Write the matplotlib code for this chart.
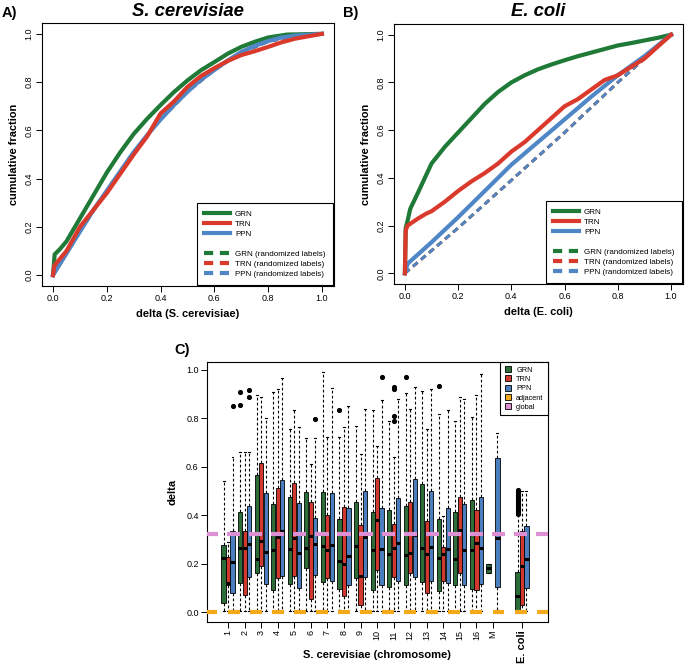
# delta distributions: cumulative curves (A, B) and per-chromosome boxplots (C)

import numpy as np
import matplotlib
matplotlib.use('Agg')
import matplotlib.pyplot as plt
from matplotlib.lines import Line2D

plt.rcParams['font.family'] = ['Liberation Sans', 'DejaVu Sans']

# ---- data ----
# panel A, S. cerevisiae: (delta, cumulative fraction)
sc_grn_x = [0, 0.006, 0.025, 0.05, 0.1, 0.15, 0.2, 0.25, 0.3, 0.35, 0.4, 0.45, 0.5, 0.55,
            0.6, 0.65, 0.7, 0.75, 0.8, 0.87, 1.0]
sc_grn_y = [0, 0.086, 0.107, 0.14, 0.235, 0.33, 0.425, 0.509, 0.585, 0.648, 0.705, 0.759,
            0.807, 0.849, 0.883, 0.918, 0.946, 0.967, 0.985, 0.997, 1.0]
sc_trn_x = [0, 0.005, 0.05, 0.1, 0.15, 0.2, 0.25, 0.3, 0.35, 0.4, 0.45, 0.5, 0.55, 0.6,
            0.65, 0.7, 0.75, 0.8, 0.85, 0.9, 0.95, 1.0]
sc_trn_y = [0, 0.04, 0.1, 0.2, 0.27, 0.34, 0.42, 0.5, 0.575, 0.67, 0.72, 0.78, 0.825, 0.858,
            0.888, 0.912, 0.928, 0.946, 0.965, 0.98, 0.99, 1.0]
sc_ppn_x = [0, 0.05, 0.1, 0.15, 0.2, 0.25, 0.3, 0.35, 0.4, 0.45, 0.5, 0.55, 0.6, 0.65,
            0.7, 0.75, 0.8, 0.85, 0.9, 1.0]
sc_ppn_y = [0, 0.09, 0.18, 0.27, 0.35, 0.43, 0.51, 0.58, 0.645, 0.705, 0.76, 0.81, 0.85,
            0.89, 0.925, 0.95, 0.97, 0.985, 0.993, 1.0]
# randomized labels: the three dashed curves lie on top of each other
sc_rand_x = [0, 0.1, 0.2, 0.3, 0.4, 0.5, 0.6, 0.7, 0.8, 0.9, 1.0]
sc_rand_y = [0, 0.18, 0.35, 0.51, 0.645, 0.76, 0.85, 0.922, 0.968, 0.992, 1.0]

# panel B, E. coli
ec_grn_x = [0, 0.003, 0.01, 0.02, 0.05, 0.1, 0.15, 0.2, 0.25, 0.3, 0.35, 0.4, 0.45, 0.5,
            0.55, 0.6, 0.65, 0.7, 0.75, 0.8, 0.85, 0.9, 0.95, 1.0]
ec_grn_y = [0, 0.19, 0.22, 0.27, 0.34, 0.46, 0.53, 0.59, 0.65, 0.71, 0.76, 0.80, 0.83,
            0.855, 0.875, 0.893, 0.91, 0.925, 0.94, 0.955, 0.965, 0.976, 0.987, 1.0]
ec_trn_x = [0, 0.003, 0.01, 0.05, 0.08, 0.1, 0.15, 0.2, 0.25, 0.3, 0.35, 0.4, 0.45, 0.5,
            0.55, 0.6, 0.65, 0.7, 0.75, 0.8, 0.85, 0.9, 0.95, 1.0]
ec_trn_y = [0, 0.18, 0.2, 0.23, 0.25, 0.26, 0.30, 0.345, 0.385, 0.42, 0.46, 0.51, 0.55,
            0.6, 0.65, 0.70, 0.73, 0.77, 0.81, 0.83, 0.865, 0.9, 0.95, 1.0]
ec_ppn_x = [0, 0.01, 0.05, 0.1, 0.2, 0.3, 0.4, 0.5, 0.6, 0.7, 0.8, 0.9, 1.0]
ec_ppn_y = [0, 0.04, 0.08, 0.13, 0.235, 0.345, 0.455, 0.55, 0.645, 0.74, 0.83, 0.91, 1.0]
ec_rand_x = [0, 0.2, 0.4, 0.6, 0.8, 1.0]
ec_rand_y = [0, 0.19, 0.39, 0.59, 0.80, 1.0]

# panel C, boxplot summaries per chromosome (1..16, M) and E. coli
chrom_labels = [str(i) for i in range(1, 17)] + ['M']

grn_q1 = [0.037, 0.12, 0.16, 0.09, 0.115, 0.18, 0.125, 0.095, 0.14, 0.09, 0.105, 0.11,
          0.125, 0.085, 0.11, 0.095, 0.16, 0.005]
grn_med = [0.225, 0.265, 0.22, 0.255, 0.262, 0.265, 0.275, 0.21, 0.275, 0.255, 0.24, 0.235,
           0.265, 0.225, 0.22, 0.255, 0.18, 0.065]
grn_q3 = [0.278, 0.415, 0.565, 0.445, 0.475, 0.495, 0.495, 0.385, 0.455, 0.415, 0.42, 0.44,
          0.53, 0.385, 0.415, 0.465, 0.20, 0.165]
grn_hi = [0.54, 0.66, 0.895, 0.91, 0.755, 0.72, 0.99, 0.725, 0.77, 0.835, 0.79, 0.905,
          0.915, 0.82, 0.79, 0.805, 0.20, 0.40]
grn_lo = [0.005] * 16 + [0.16, 0.005]
grn_out = {1: [0.857, 0.909], 7: [0.833], 11: [0.97], 13: [0.935],
           17: [0.405, 0.41, 0.415, 0.42, 0.425, 0.43, 0.435, 0.44, 0.445, 0.45, 0.455,
                0.46, 0.465, 0.47, 0.475, 0.48, 0.485, 0.49, 0.495, 0.5, 0.505]}

trn_q1 = [0.113, 0.07, 0.19, 0.14, 0.15, 0.055, 0.14, 0.068, 0.03, 0.175, 0.145, 0.16,
          0.08, 0.13, 0.16, 0.09, None, 0.03]
trn_med = [0.12, 0.265, 0.295, 0.31, 0.305, 0.315, 0.255, 0.20, 0.15, 0.38, 0.265, 0.245,
           0.24, 0.24, 0.34, 0.285, None, 0.19]
trn_q3 = [0.227, 0.335, 0.617, 0.512, 0.533, 0.455, 0.40, 0.435, 0.36, 0.555, 0.365, 0.455,
          0.375, 0.27, 0.475, 0.42, None, 0.335]
trn_hi = [0.29, 0.66, 0.89, 0.92, 0.835, 0.61, 0.725, 0.765, 0.655, 0.685, 0.64, 0.84,
          0.755, 0.395, 0.89, 0.895, None, 0.50]
trn_lo = [0.005] * 18
trn_out = {10: [0.93, 0.92, 0.81, 0.79]}

ppn_q1 = [0.08, 0.145, 0.115, 0.15, 0.10, 0.155, 0.13, 0.11, 0.145, 0.11, 0.13, 0.145,
          0.13, 0.12, 0.11, 0.115, 0.105, 0.10]
ppn_med = [0.205, 0.28, 0.25, 0.335, 0.245, 0.28, 0.277, 0.23, 0.31, 0.26, 0.285, 0.32,
           0.27, 0.26, 0.255, 0.265, 0.305, 0.22]
ppn_q3 = [0.335, 0.44, 0.49, 0.545, 0.45, 0.39, 0.492, 0.43, 0.50, 0.43, 0.47, 0.55,
          0.50, 0.428, 0.445, 0.475, 0.635, 0.355]
ppn_hi = [0.64, 0.66, 0.80, 0.965, 0.765, 0.72, 0.925, 0.85, 0.84, 0.875, 0.88, 0.93,
          0.92, 0.835, 0.88, 0.985, 0.74, 0.50]
ppn_lo = [0.005] * 16 + [0.01, 0.005]
ppn_out = {0: [0.85], 1: [0.917, 0.888], 5: [0.797], 9: [0.97]}

adjacent_val = 0.0
global_val = 0.323

# ---- styles ----
GREEN = '#1E7A36'
RED = '#DA3A2C'
BLUE = '#4F86C6'
ORANGE = '#F2AA1C'
PINK = '#DD90D4'
BOX_GREEN = '#2C6D38'
BOX_RED = '#D2392E'
BOX_BLUE = '#4B7EBF'

fig = plt.figure(figsize=(6.85, 6.65), dpi=100)


def style_axes(ax):
    for sp in ax.spines.values():
        sp.set_linewidth(0.8)
        sp.set_color('black')
    ax.tick_params(direction='out', length=4, width=0.7, labelsize=6.5, pad=2)


def cdf_panel(ax, grn, trn, ppn, rand, xlabel):
    dash = (0, (2.2, 1.6))
    ax.plot(rand[0], rand[1], color=GREEN, lw=2, ls=dash)
    ax.plot(rand[0], rand[1], color=RED, lw=2, ls=dash)
    ax.plot(rand[0], rand[1], color=BLUE, lw=2, ls=dash)
    ax.plot(grn[0], grn[1], color=GREEN, lw=3)
    ax.plot(ppn[0], ppn[1], color=BLUE, lw=3)
    ax.plot(trn[0], trn[1], color=RED, lw=3)
    ax.set_xlim(-0.041, 1.045)
    ax.set_ylim(-0.045, 1.045)
    ticks = [0, 0.2, 0.4, 0.6, 0.8, 1.0]
    ax.set_xticks(ticks)
    ax.set_yticks(ticks)
    ax.set_xticklabels(['%.1f' % t for t in ticks])
    ax.set_yticklabels(['%.1f' % t for t in ticks], rotation=90, va='center')
    style_axes(ax)
    ax.set_xlabel(xlabel, fontsize=7.9, fontweight='bold', labelpad=4)
    ax.set_ylabel('cumulative fraction', fontsize=7.9, fontweight='bold', labelpad=4)

    handles = [Line2D([], [], color=GREEN, lw=3), Line2D([], [], color=RED, lw=3),
               Line2D([], [], color=BLUE, lw=3), Line2D([], [], color='none'),
               Line2D([], [], color=GREEN, lw=3, ls=dash), Line2D([], [], color=RED, lw=3, ls=dash),
               Line2D([], [], color=BLUE, lw=3, ls=dash)]
    labels = ['GRN', 'TRN', 'PPN', '', 'GRN (randomized labels)',
              'TRN (randomized labels)', 'PPN (randomized labels)']
    leg = ax.legend(handles, labels, loc='lower right', bbox_to_anchor=(1.0, 0.0),
                    borderaxespad=0.15, fontsize=5.8, handlelength=3.2, handletextpad=0.6,
                    labelspacing=0.28, borderpad=0.9, fancybox=False, framealpha=1)
    leg.get_frame().set_edgecolor('black')
    leg.get_frame().set_linewidth(0.8)


axA = fig.add_axes([42 / 685, 1 - 286 / 665, 292 / 685, 263 / 665])
cdf_panel(axA, (sc_grn_x, sc_grn_y), (sc_trn_x, sc_trn_y), (sc_ppn_x, sc_ppn_y),
          (sc_rand_x, sc_rand_y), 'delta (S. cerevisiae)')
axB = fig.add_axes([394 / 685, 1 - 284 / 665, 289 / 685, 260 / 665])
cdf_panel(axB, (ec_grn_x, ec_grn_y), (ec_trn_x, ec_trn_y), (ec_ppn_x, ec_ppn_y),
          (ec_rand_x, ec_rand_y), 'delta (E. coli)')

fig.text(2 / 685, 1 - 13 / 665, 'A)', fontsize=10.5, fontweight='bold', va='center')
fig.text(188 / 685, 1 - 12 / 665, 'S. cerevisiae', fontsize=13.3, fontweight='bold',
         style='italic', ha='center', va='center')
fig.text(343 / 685, 1 - 13 / 665, 'B)', fontsize=10.5, fontweight='bold', va='center')
fig.text(538 / 685, 1 - 12 / 665, 'E. coli', fontsize=13.3, fontweight='bold',
         style='italic', ha='center', va='center')
fig.text(174 / 685, 1 - 350 / 665, 'C)', fontsize=10.5, fontweight='bold', va='center')

# ---- panel C ----
axC = fig.add_axes([207 / 685, 1 - 622 / 665, 341 / 685, 260 / 665])
group_pos = list(range(1, 18)) + [18.75]


def draw_boxes(ax, q1, med, q3, lo, hi, out, offset, color):
    stats, pos = [], []
    for i in range(len(q1)):
        if q1[i] is None:
            continue
        stats.append(dict(q1=q1[i], med=med[i], q3=q3[i], whislo=lo[i], whishi=hi[i],
                          fliers=out.get(i, [])))
        pos.append(group_pos[i] + offset)
    ax.bxp(stats, positions=pos, widths=0.25, capwidths=0.12, patch_artist=True,
           manage_ticks=False,
           boxprops=dict(facecolor=color, edgecolor='black', linewidth=0.6),
           whiskerprops=dict(color='black', linewidth=0.8, linestyle=(0, (2.5, 2))),
           capprops=dict(color='black', linewidth=0.8),
           medianprops=dict(color='black', linewidth=2.2, solid_capstyle='butt'),
           flierprops=dict(marker='o', markerfacecolor='black', markeredgecolor='black',
                           markersize=2.7))


draw_boxes(axC, grn_q1, grn_med, grn_q3, grn_lo, grn_hi, grn_out, -0.27, BOX_GREEN)
draw_boxes(axC, trn_q1, trn_med, trn_q3, trn_lo, trn_hi, trn_out, 0.0, BOX_RED)
draw_boxes(axC, ppn_q1, ppn_med, ppn_q3, ppn_lo, ppn_hi, ppn_out, 0.27, BOX_BLUE)

seg_pos = np.arange(16) * 4 / 3
axC.hlines(np.full(len(seg_pos), adjacent_val), seg_pos - 0.36, seg_pos + 0.36,
           color=ORANGE, lw=3, zorder=5)
axC.hlines(np.full(len(seg_pos), global_val), seg_pos - 0.4, seg_pos + 0.4,
           color=PINK, lw=3, zorder=5)

axC.set_xlim(-0.27, 20.32)
axC.set_ylim(-0.041, 1.033)
yt = [0, 0.2, 0.4, 0.6, 0.8, 1.0]
axC.set_yticks(yt)
axC.set_yticklabels(['%.1f' % t for t in yt])
axC.set_xticks(group_pos)
axC.set_xticklabels(chrom_labels + ['E. coli'], rotation=90, va='top')
style_axes(axC)
ec_lab = axC.get_xticklabels()[-1]
ec_lab.set_fontweight('bold')
ec_lab.set_fontsize(8)
axC.set_ylabel('delta', fontsize=7.9, fontweight='bold', labelpad=6)
fig.text(377 / 685, 1 - 655 / 665, 'S. cerevisiae (chromosome)', fontsize=8,
         fontweight='bold', ha='center', va='center')

c_handles = [Line2D([], [], ls='none', marker='s', markersize=5, markerfacecolor=c,
                    markeredgecolor='black', markeredgewidth=0.6)
             for c in [BOX_GREEN, BOX_RED, BOX_BLUE, ORANGE, PINK]]
legC = axC.legend(c_handles, ['GRN', 'TRN', 'PPN', 'adjacent', 'global'], loc='upper right',
                  borderaxespad=0, fontsize=5.3, handlelength=1.0, handletextpad=0.6,
                  labelspacing=0.3, borderpad=0.6, fancybox=False, framealpha=1)
legC.get_frame().set_edgecolor('black')
legC.get_frame().set_linewidth(0.8)

fig.savefig('out.png', dpi=100)
